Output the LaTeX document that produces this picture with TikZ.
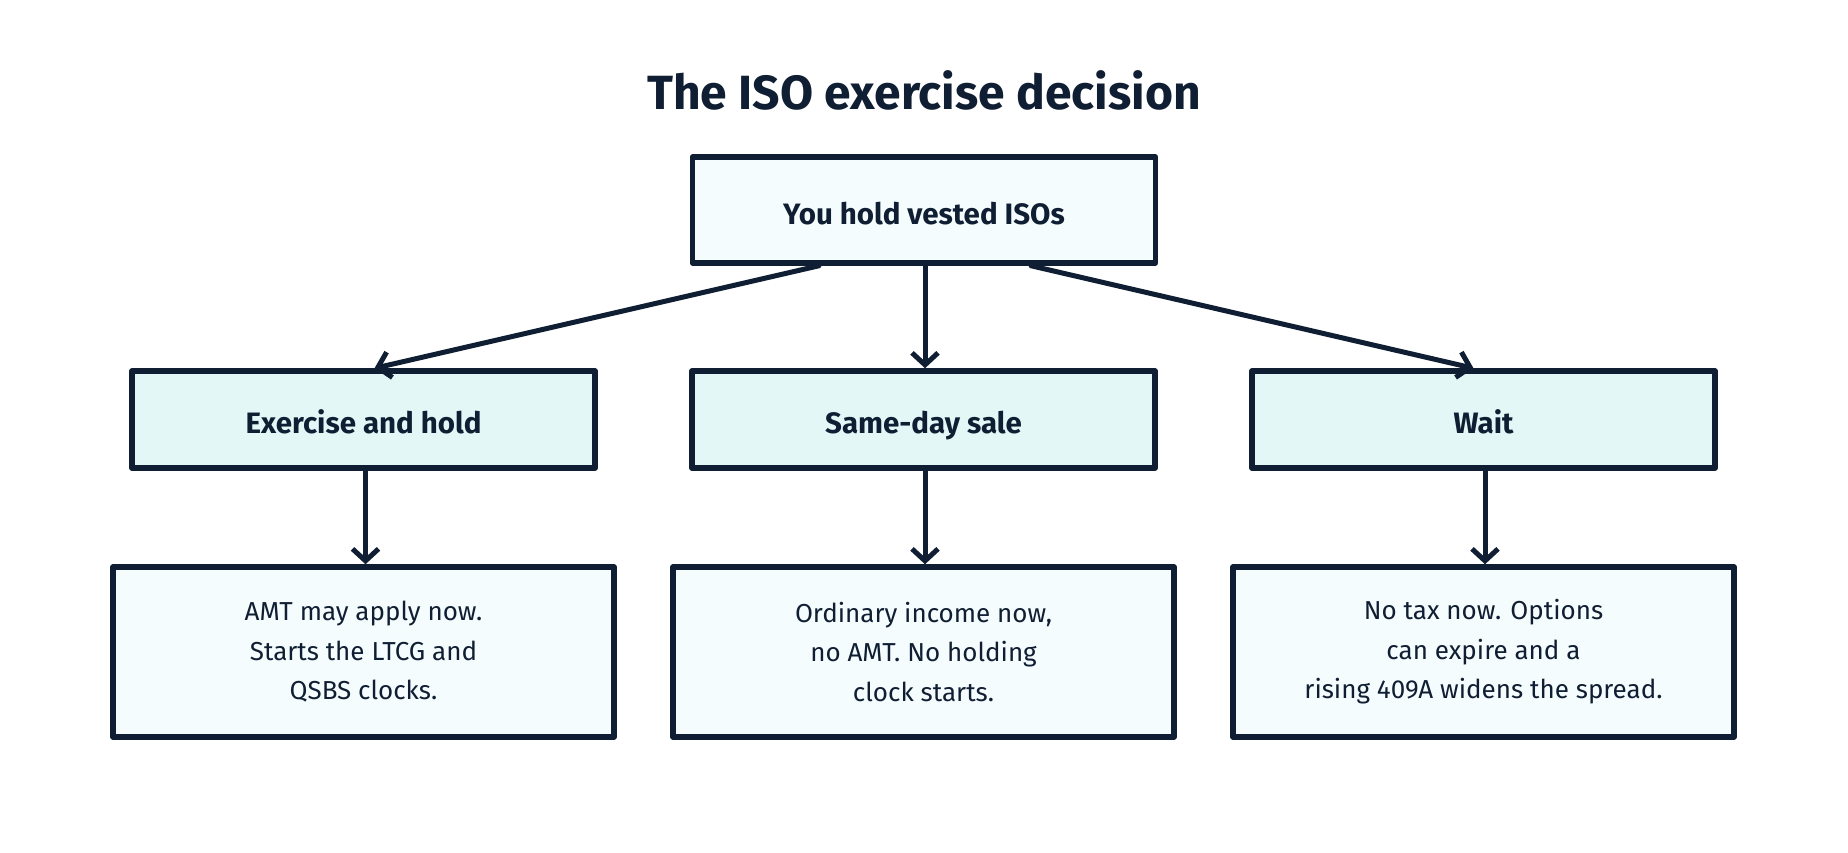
\documentclass[tikz,border=0pt]{standalone}
\usepackage{fontspec}
\setmainfont{Fira Sans}
\usetikzlibrary{arrows.meta,calc}
\definecolor{ink}{HTML}{0F1E32}
\definecolor{paleA}{HTML}{F5FCFD}
\definecolor{paleB}{HTML}{E3F7F7}
\tikzset{
  box/.style={draw=ink, line width=5.5pt, line join=round, text=ink, align=center, inner sep=0pt},
  topbox/.style={box, fill=paleA, minimum width=463pt, minimum height=106pt, text height=30pt, text depth=2pt, font=\fontsize{29.5}{34}\selectfont\bfseries},
  midbox/.style={box, fill=paleB, minimum width=463pt, minimum height=97pt, text height=30pt, text depth=2pt, font=\fontsize{29.5}{34}\selectfont\bfseries},
  lowbox/.style={box, fill=paleA, minimum width=501pt, minimum height=170pt, font=\fontsize{26}{39.5}\selectfont},
  arr/.style={draw=ink, line width=5pt, line cap=round, -{Straight Barb[length=12pt,width=26pt]}},
}
\begin{document}
\begin{tikzpicture}[x=1pt,y=-1pt]
\useasboundingbox (0,0) rectangle (1848,852);
\node[text=ink, font=\fontsize{48}{54}\selectfont\bfseries] (title) at (924,90) {The ISO exercise decision};
\node[topbox] (top) at (924,210) {You hold vested ISOs};
\node[midbox] (L) at (363.5,419.5) {Exercise and hold};
\node[midbox] (M) at (923.5,419.5) {Same-day sale};
\node[midbox] (R) at (1483.5,419.5) {Wait};
\node[lowbox] (LL) at (363.5,652) {AMT may apply now.\\Starts the LTCG and\\QSBS clocks.};
\node[lowbox] (ML) at (923.5,652) {Ordinary income now,\\no AMT. No holding\\clock starts.};
\node[lowbox] (RL) at (1483.5,652) {No tax now. Options\\can expire and a\\rising 409A widens the spread.};
\draw[arr] ([xshift=-105pt]top.south) -- ([xshift=11pt]L.north);
\draw[arr] ([xshift=1pt]top.south) -- ([xshift=1.5pt]M.north);
\draw[arr] ([xshift=107pt]top.south) -- ([xshift=-10pt]R.north);
\draw[arr] ([xshift=2pt]L.south) -- ([xshift=2pt]LL.north);
\draw[arr] ([xshift=1.5pt]M.south) -- ([xshift=1.5pt]ML.north);
\draw[arr] ([xshift=1.5pt]R.south) -- ([xshift=1.5pt]RL.north);
\end{tikzpicture}
\end{document}
